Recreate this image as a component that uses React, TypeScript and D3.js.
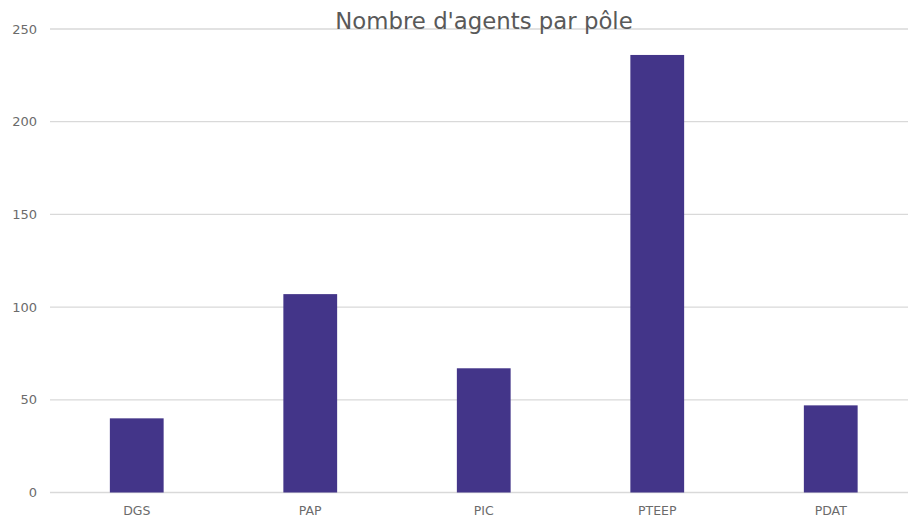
import React from "react";
import * as d3 from "d3";

const categories = ["DGS", "PAP", "PIC", "PTEEP", "PDAT"];
const values = [40, 107, 67, 236, 47];
const yTicks = [0, 50, 100, 150, 200, 250];
const title = "Nombre d'agents par pôle";

export default function App() {
  const W = 908, H = 518;
  const x = d3.scaleBand().domain(categories).range([50, 917.5]).paddingInner(0.69).paddingOuter(0.345);
  const y = d3.scaleLinear().domain([0, 250]).range([492.5, 29]);
  const font = "'DejaVu Sans', sans-serif";
  return (
    <svg width={W} height={H} style={{ position: "absolute", left: 0, top: 0, background: "#fff" }}>
      {yTicks.map((t) => (
        <g key={t}>
          <line x1={50} x2={W} y1={y(t)} y2={y(t)} stroke="#d9d9d9" strokeWidth={1.3} />
          <text x={37} y={y(t)} dy="0.35em" textAnchor="end" fontSize={13} fill="#6b6b6b" fontFamily={font}>{t}</text>
        </g>
      ))}
      {categories.map((c, i) => (
        <g key={c}>
          <rect x={x(c)} y={y(values[i])} width={x.bandwidth()} height={y(0) - y(values[i])} fill="#433589" />
          <text x={(x(c) as number) + x.bandwidth() / 2} y={515} textAnchor="middle" fontSize={12.5} fill="#6b6b6b" fontFamily={font}>{c}</text>
        </g>
      ))}
      <text x={484} y={29} textAnchor="middle" fontSize={22.8} fill="#595959" fontFamily={font}>{title}</text>
    </svg>
  );
}
